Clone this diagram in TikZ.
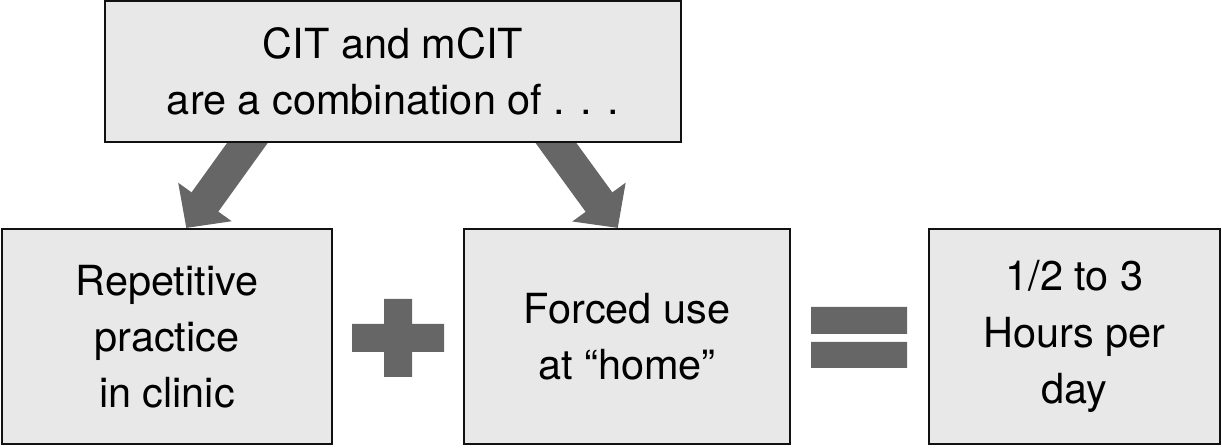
\documentclass[tikz,border=0pt]{standalone}
\usepackage{fontspec}
\setsansfont{TeX Gyre Heros}
\usetikzlibrary{arrows.meta,calc,backgrounds}
\definecolor{BoxFill}{HTML}{E8E8E8}
\definecolor{ArrowGrey}{HTML}{666666}
\definecolor{EdgeBlack}{HTML}{111111}
\begin{document}
\begin{tikzpicture}[x=0.02cm,y=-0.02cm,every node/.style={font=\sffamily\fontsize{23.6}{32}\selectfont,text=black},
  box/.style={draw=EdgeBlack,line width=1.2pt,fill=BoxFill,align=center,inner sep=0pt,minimum height=4.3cm},
  fat/.style={ArrowGrey,line width=0.66cm,-{Triangle[length=0.64cm,width=1.28cm]}}]
\useasboundingbox (0,0) rectangle (1222,448);
\node[box,minimum width=11.52cm,minimum height=2.82cm] (combo) at (393,71.5){CIT and mCIT\\are a combination of . . .};
\node[box,minimum width=6.6cm] (practice) at (167,336.5){Repetitive\\practice\\in clinic};
\node[box,minimum width=6.52cm] (forced) at (627,336.5){Forced use\\at “home”};
\node[box,minimum width=5.82cm] (hours) at (1074.5,336.5){1/2 to 3\\Hours per\\day};
% block arrows behind the boxes
\coordinate (l0) at ($(combo.south west)!0.248!(combo.south east)$); \coordinate (l1) at ($(practice.north west)!0.558!(practice.north east)$);
\coordinate (r0) at ($(combo.south west)!0.782!(combo.south east)$); \coordinate (r1) at ($(forced.north west)!0.472!(forced.north east)$);
\begin{scope}[on background layer]
\draw[fat] ($(l0)!-20pt!(l1)$)--(l1); \draw[fat] ($(r0)!-20pt!(r1)$)--(r1);
\end{scope}
% plus and equals
\fill[ArrowGrey] (352,324) rectangle (444,352) (384,299) rectangle (412,377);
\fill[ArrowGrey] (811,307) rectangle (907,334) (811,342) rectangle (907,368);
\end{tikzpicture}
\end{document}
